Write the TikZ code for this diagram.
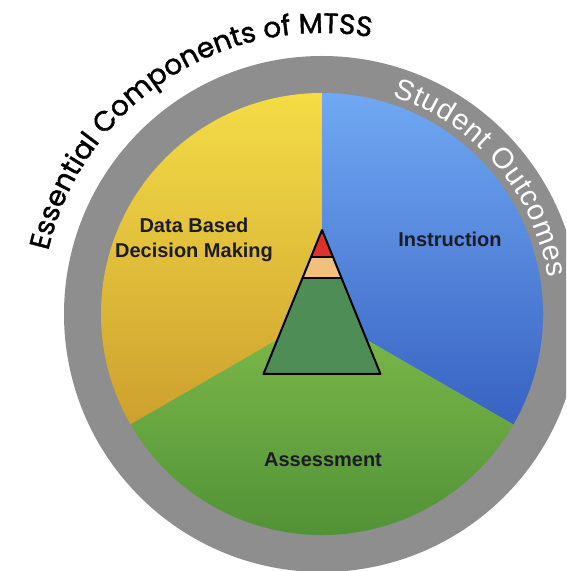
\documentclass[tikz,border=0pt]{standalone}
\usepackage{fontspec}
\setmainfont{Liberation Sans}
\newfontfamily\geofont[FakeBold=1.5]{Poppins}
\usetikzlibrary{decorations.text,calc}
\definecolor{ringgray}{HTML}{8E8E8E}
\definecolor{ylwT}{HTML}{F4DC46}
\definecolor{ylwB}{HTML}{CDA02E}
\definecolor{bluT}{HTML}{70A8F3}
\definecolor{bluB}{HTML}{3862C2}
\definecolor{grnT}{HTML}{7DBA4A}
\definecolor{grnB}{HTML}{4C8C34}
\definecolor{pyrgreen}{HTML}{4E8E56}
\definecolor{pyrpeach}{HTML}{F2C07C}
\definecolor{pyrred}{HTML}{E0322A}
\definecolor{labeltext}{HTML}{1C1C24}
\tikzset{
  seclabel/.style={font=\bfseries\fontsize{20}{25}\selectfont, text=labeltext, align=center, inner sep=0pt},
  pyrline/.style={line width=2pt, line join=round, draw=black}
}
\begin{document}
\begin{tikzpicture}[x=1pt,y=1pt]
\useasboundingbox (0,0) rectangle (566,571);
\clip (0,0) rectangle (566,571);
\coordinate (C) at (322,257);
% ring
\fill[ringgray] (C) circle[radius=258];
% sectors
\shade[top color=ylwT, bottom color=ylwB] (C) -- ++(90:221) arc[start angle=90,end angle=210,radius=221] -- cycle;
\shade[top color=bluT, bottom color=bluB] (C) -- ++(-30:221) arc[start angle=-30,end angle=90,radius=221] -- cycle;
\shade[top color=grnT, bottom color=grnB] (C) -- ++(210:221) arc[start angle=210,end angle=330,radius=221] -- cycle;
% pyramid
\coordinate (A) at (322,341);
\coordinate (R1) at (311,314);
\coordinate (R2) at (333,314);
\coordinate (O1) at (302.5,293);
\coordinate (O2) at (341.5,293);
\coordinate (B1) at (263.5,197);
\coordinate (B2) at (380.5,197);
\fill[pyrgreen] (O1) -- (O2) -- (B2) -- (B1) -- cycle;
\fill[pyrpeach] (R1) -- (R2) -- (O2) -- (O1) -- cycle;
\fill[pyrred] (A) -- (R2) -- (R1) -- cycle;
\draw[pyrline] (R1) -- (R2);
\draw[pyrline] (O1) -- (O2);
\draw[pyrline] (A) -- (B2) -- (B1) -- cycle;
% labels
\node[seclabel] (dbdm) at (194,331.5) {Data Based\\Decision Making};
\node[seclabel] (instr) at (450,332) {Instruction};
\node[seclabel] (assess) at (323,111) {Assessment};
% curved texts
\path[decorate, decoration={text along path, text={|\geofont\fontsize{28}{28}\selectfont|Essential Components of MTSS}, text align={left}}]
  ($(C)+(167:281)$) arc[start angle=167,end angle=50,radius=281];
\path[decorate, decoration={text along path, text={|\fontsize{29}{29}\selectfont\color{white}|Student Outcomes}, text align={fit to path}}]
  ($(C)+(72:229)$) arc[start angle=72,end angle=9,radius=229];
\end{tikzpicture}
\end{document}
